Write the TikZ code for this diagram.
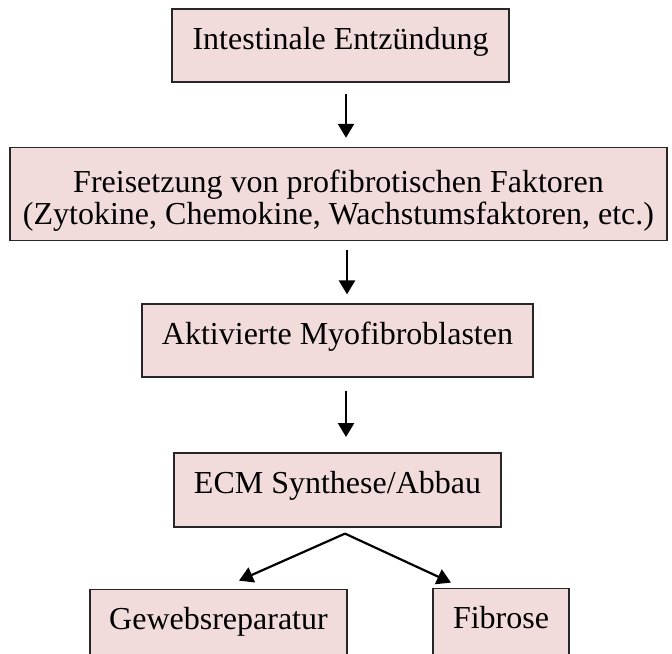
\documentclass[tikz,border=0pt]{standalone}
\usepackage{fontspec}
\setmainfont{Liberation Serif}
\usetikzlibrary{positioning, arrows.meta}
\definecolor{boxpink}{HTML}{F2DCDB}

\begin{document}
\begin{tikzpicture}[
  >={Triangle[length=7pt, width=8pt]},
  stage/.style={
    rectangle, draw=black!85, fill=boxpink, line width=0.8pt,
    inner sep=0pt, minimum height=36.5pt, align=center,
    text height=20pt, text depth=16.5pt,
    font=\fontsize{16}{16}\selectfont
  },
  flow/.style={->, line width=1.1pt},
]
\useasboundingbox (0,0) rectangle (336pt,-326.5pt);

% Inflammation
\node[stage, minimum width=168.5pt] (inflam) at (170.25pt,-22.75pt)
  {Intestinale Entzündung};

% Release of factors
\node[stage, minimum width=328.5pt, minimum height=46.5pt,
  text height=38.5pt, text depth=8pt,
  below=32pt of inflam, xshift=-1pt] (release)
  {Freisetzung von profibrotischen Faktoren\\(Zytokine, Chemokine, Wachstumsfaktoren, etc.)};

% Myofibroblasts
\node[stage, minimum width=195.5pt, below=31pt of release, xshift=-0.5pt] (myo)
  {Aktivierte Myofibroblasten};

% ECM
\node[stage, minimum width=163.5pt, minimum height=37pt, below=37pt of myo] (ecm)
  {ECM Synthese/Abbau};

% Outcomes
\node[stage, minimum width=128.5pt, below=30.5pt of ecm, xshift=-59.5pt] (repair)
  {Gewebsreparatur};
\node[stage, minimum width=68pt, below=30pt of ecm, xshift=81.75pt] (fibrosis)
  {Fibrose};

% Arrows
\draw[flow, line width=1.2pt]
  ([xshift=2.75pt, yshift=-5.5pt]inflam.south) -- ([xshift=3.75pt, yshift=4.5pt]release.north);
\draw[flow, line width=1.2pt]
  ([xshift=4.25pt, yshift=-4.5pt]release.south) -- ([xshift=4.75pt, yshift=4.5pt]myo.north);
\draw[flow, line width=1.2pt]
  ([xshift=4.25pt, yshift=-6.5pt]myo.south) -- ([xshift=4.25pt, yshift=7.5pt]ecm.north);

% Split
\coordinate (split) at ([xshift=3.75pt, yshift=-3pt]ecm.south);
\draw[flow] (split) -- ([xshift=10.25pt, yshift=4pt]repair.north);
\draw[flow] (split) -- ([xshift=-25pt, yshift=2.5pt]fibrosis.north);

\end{tikzpicture}
\end{document}
